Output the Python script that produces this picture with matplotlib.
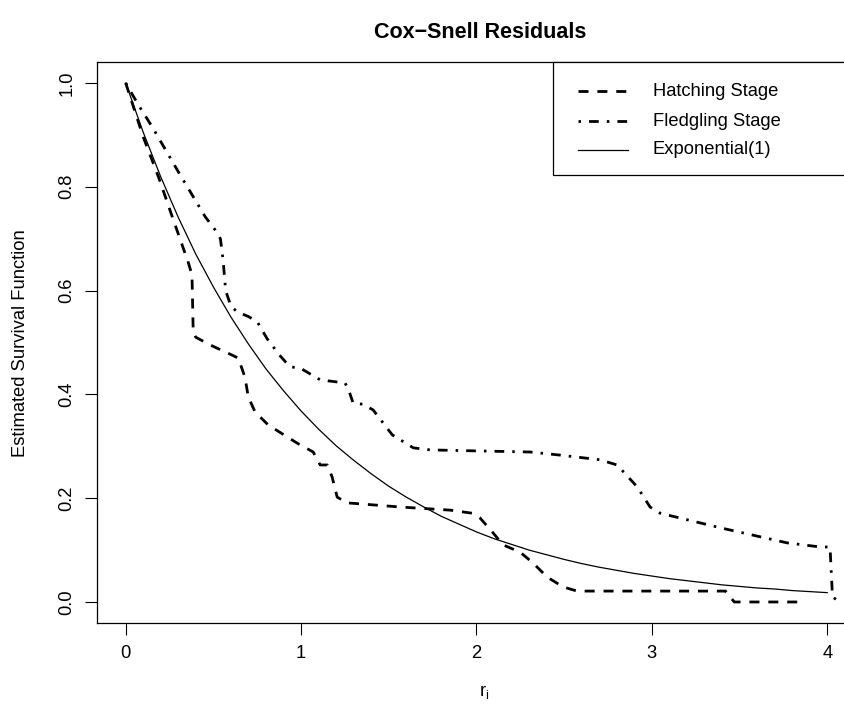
import matplotlib
matplotlib.use("Agg")
import matplotlib.pyplot as plt
from matplotlib.lines import Line2D
from matplotlib.patches import Rectangle

plt.rcParams['font.family'] = ['Liberation Sans', 'DejaVu Sans']
plt.rcParams['mathtext.fontset'] = 'custom'
plt.rcParams['mathtext.rm'] = 'Liberation Sans'
plt.rcParams['mathtext.it'] = 'Liberation Sans'

# ---- data ----
hatch_x = [0.0, 0.10, 0.187, 0.272, 0.358, 0.378, 0.385, 0.40, 0.483, 0.58, 0.642,
           0.68, 0.699, 0.738, 0.813, 0.978, 1.069, 1.109, 1.149, 1.177, 1.206,
           1.263, 1.565, 1.85, 1.976, 2.02, 2.095, 2.152, 2.249, 2.323, 2.403,
           2.494, 2.574, 3.42, 3.47, 3.86]
hatch_y = [1.0, 0.896, 0.819, 0.736, 0.653, 0.63, 0.52, 0.51, 0.495, 0.48, 0.47,
           0.433, 0.395, 0.366, 0.341, 0.306, 0.289, 0.264, 0.264, 0.241, 0.202,
           0.191, 0.183, 0.177, 0.171, 0.162, 0.133, 0.110, 0.096, 0.075, 0.048,
           0.029, 0.021, 0.021, 0.0, 0.0]

fledge_x = [0.0, 0.072, 0.152, 0.30, 0.454, 0.51, 0.54, 0.555, 0.57, 0.60, 0.636,
            0.70, 0.75, 0.807, 0.876, 0.937, 0.994, 1.109, 1.251, 1.275, 1.297,
            1.354, 1.411, 1.52, 1.64, 1.736, 2.306, 2.477, 2.705, 2.802, 2.916,
            2.99, 3.048, 3.39, 3.77, 3.96, 4.016, 4.03, 4.07, 4.09]
fledge_y = [1.0, 0.958, 0.915, 0.829, 0.742, 0.717, 0.70, 0.66, 0.60, 0.57, 0.559,
            0.55, 0.54, 0.507, 0.476, 0.453, 0.451, 0.428, 0.422, 0.405, 0.383,
            0.381, 0.370, 0.322, 0.297, 0.293, 0.289, 0.283, 0.274, 0.264, 0.222,
            0.183, 0.171, 0.143, 0.114, 0.106, 0.106, 0.01, 0.0, 0.0]

exp_x = [i / 10 for i in range(41)]
exp_y = [1.000, 0.905, 0.819, 0.741, 0.670, 0.607, 0.549, 0.497, 0.449, 0.407,
         0.368, 0.333, 0.301, 0.273, 0.247, 0.223, 0.202, 0.183, 0.165, 0.150,
         0.135, 0.122, 0.111, 0.100, 0.091, 0.082, 0.074, 0.067, 0.061, 0.055,
         0.050, 0.045, 0.041, 0.037, 0.033, 0.030, 0.027, 0.025, 0.022, 0.020,
         0.018]

series_labels = ["Hatching Stage", "Fledgling Stage", "Exponential(1)"]
xticks = [0, 1, 2, 3, 4]
yticks = [0.0, 0.2, 0.4, 0.6, 0.8, 1.0]
ytick_labels = ["0.0", "0.2", "0.4", "0.6", "0.8", "1.0"]

# ---- figure ----
W, H = 844, 717
fig = plt.figure(figsize=(W / 100, H / 100), dpi=100)
L, R, T, B = 97, 871.7, 62, 623
ax = fig.add_axes([L / W, 1 - B / H, (R - L) / W, (B - T) / H])

FS = 13.2
LW_THICK = 2.0
LW_THIN = 0.9
styles = [dict(color='black', lw=LW_THICK, dashes=(3.6, 3.2)),
          dict(color='black', lw=LW_THICK, dashes=(0.9, 2.9, 3.5, 2.9)),
          dict(color='black', lw=LW_THIN, linestyle='-')]

ax.plot(hatch_x, hatch_y, dash_joinstyle='round', **styles[0])
ax.plot(fledge_x, fledge_y, dash_joinstyle='round', **styles[1])
ax.plot(exp_x, exp_y, **styles[2])

ax.set_xlim(-0.1636, 4.2536)
ax.set_ylim(-0.0405, 1.0405)
ax.set_xticks(xticks)
ax.set_xticklabels([str(t) for t in xticks], fontsize=FS)
ax.set_yticks(yticks)
ax.set_yticklabels(ytick_labels, fontsize=FS, rotation=90, va='center')
ax.tick_params(direction='out', length=8.6, width=0.8, pad=7, colors='black')
for s in ax.spines.values():
    s.set_linewidth(0.9)

# title and axis labels
fig.text(480 / W, 1 - 33 / H, "Cox\u2212Snell Residuals", ha='center', va='center',
         fontsize=15.5, fontweight='bold')
fig.text(484 / W, 1 - 692 / H, r"$\mathrm{r}_\mathrm{i}$", ha='center', va='center',
         fontsize=FS)
fig.text(21 / W, 1 - 343 / H, "Estimated Survival Function", ha='center', va='center',
         rotation=90, fontsize=FS)

# legend (R-style box anchored to top-right of plot region)
def fx(px):
    return (px - L) / (R - L)

def fy(py):
    return (B - py) / (B - T)

ax.add_patch(Rectangle((fx(553), fy(175)), 1 - fx(553), 1 - fy(175),
                       transform=ax.transAxes, fill=True, facecolor='white',
                       edgecolor='black', lw=0.9, clip_on=False, zorder=5))
rows = [91, 121, 150]
for lab, st, py in zip(series_labels, styles, rows):
    ln = Line2D([fx(578), fx(628)], [fy(py), fy(py)], transform=ax.transAxes,
                zorder=6, **st)
    ax.add_line(ln)
    ax.text(fx(653), fy(py), lab, transform=ax.transAxes, ha='left',
            va='center', fontsize=FS, zorder=6)

fig.savefig("out.png", dpi=100)
